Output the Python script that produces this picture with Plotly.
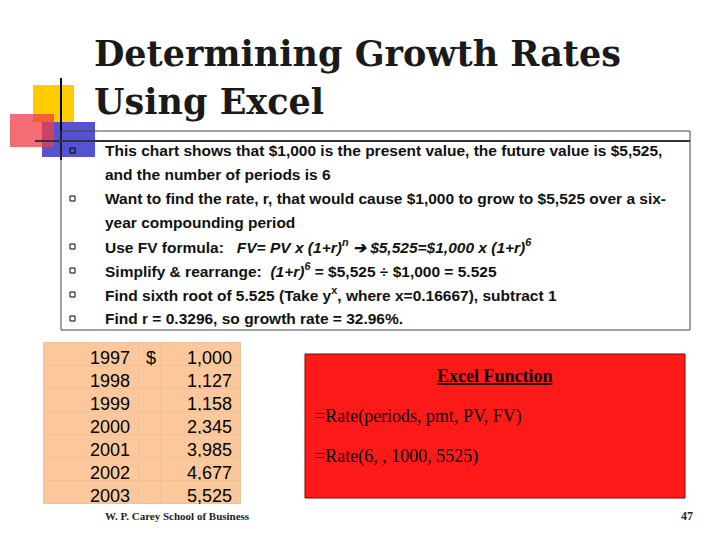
import plotly.graph_objects as go

years = ["1997", "1998", "1999", "2000", "2001", "2002", "2003"]
dollar = ["$", "", "", "", "", "", ""]
values = ["1,000", "1,127", "1,158", "2,345", "3,985", "4,677", "5,525"]

title_lines = ["Determining Growth Rates", "Using Excel"]
bullets = [
    "This chart shows that $1,000 is the present value, the future value is $5,525,",
    "and the number of periods is 6",
    "Want to find the rate, r, that would cause $1,000 to grow to $5,525 over a six-",
    "year compounding period",
    "Use FV formula:   <i>FV= PV x (1+r)<sup>n</sup> ➔ $5,525=$1,000 x (1+r)<sup>6</sup></i>",
    "Simplify &amp; rearrange:  <i>(1+r)<sup>6</sup></i> = $5,525 ÷ $1,000 = 5.525",
    "Find sixth root of 5.525 (Take y<sup>x</sup>, where x=0.16667), subtract 1",
    "Find r = 0.3296, so growth rate = 32.96%.",
]
bullet_marks = [True, False, True, False, True, True, True, True]
excel_lines = ["<u><b>Excel Function</b></u>", "=Rate(periods, pmt, PV, FV)", "=Rate(6, , 1000, 5525)"]

W, H = 720, 540
OFF = 8  # page body margin
fig = go.Figure()
fig.add_trace(go.Scatter(x=[100], y=[100], mode="markers", marker=dict(opacity=0), showlegend=False, hoverinfo="skip"))

fill = "#FCC89B"
fig.add_trace(go.Table(
    domain=dict(x=[(43 - OFF) / W, (240 - OFF) / W], y=[1 - (504 - OFF) / H, 1 - (342 - OFF) / H]),
    columnwidth=[95, 22, 80],
    header=dict(values=[years[0], dollar[0], values[0]], fill_color=fill, line_color="#EDC29A",
                align=["right", "left", "right"], height=23,
                font=dict(family="Liberation Sans", size=18, color="black")),
    cells=dict(values=[years[1:], dollar[1:], values[1:]], fill_color=fill, line_color="#EDC29A",
               align=["right", "left", "right"], height=23,
               font=dict(family="Liberation Sans", size=18, color="black")),
))

shapes = []
shapes.append(dict(type="rect", x0=33, x1=74, y0=85, y1=122, fillcolor="#FFCC00", line_width=0, layer="below"))
shapes.append(dict(type="rect", x0=42, x1=95, y0=122, y1=157, fillcolor="rgba(40,40,200,0.8)", line_width=0))
shapes.append(dict(type="rect", x0=10, x1=54, y0=114, y1=147, fillcolor="rgba(240,60,70,0.75)", line_width=0))
shapes.append(dict(type="line", x0=61, x1=61, y0=78, y1=160, line=dict(color="black", width=2)))
shapes.append(dict(type="line", x0=35, x1=690, y0=141, y1=141, line=dict(color="#333", width=2)))
shapes.append(dict(type="rect", x0=61, x1=690, y0=131, y1=330, line=dict(color="#444", width=1)))
shapes.append(dict(type="rect", x0=305, x1=685, y0=354, y1=498, fillcolor="#FF1A1A", line=dict(color="#800000", width=1)))

ann = []
for i, t in enumerate(title_lines):
    ann.append(dict(x=92, y=53 + i * 48, text="<b>" + t + "</b>", showarrow=False, xanchor="left", yanchor="middle",
                    font=dict(family="DejaVu Serif", size=35, color="#1a1a1a")))
for i, t in enumerate(bullets):
    y = 150 + i * 24
    if bullet_marks[i]:
        shapes.append(dict(type="rect", x0=70, x1=75, y0=y - 2, y1=y + 3, line=dict(color="black", width=1)))
    ann.append(dict(x=103, y=y, text="<b>" + t + "</b>", showarrow=False, xanchor="left", yanchor="middle",
                    font=dict(family="Liberation Sans", size=15.5, color="#111")))
for i, t in enumerate(excel_lines):
    ann.append(dict(x=313 if i else 495, y=376 + i * 40, text=t, showarrow=False,
                    xanchor="left" if i else "center", yanchor="middle",
                    font=dict(family="Liberation Serif", size=18, color="black")))
ann.append(dict(x=103, y=516, text="<b>W. P. Carey School of Business</b>", showarrow=False, xanchor="left",
                font=dict(family="Liberation Serif", size=11, color="#222")))
ann.append(dict(x=695, y=516, text="<b>47</b>", showarrow=False, xanchor="right",
                font=dict(family="Liberation Serif", size=12, color="#222")))

fig.update_layout(width=W, height=H, margin=dict(l=0, r=0, t=0, b=0), paper_bgcolor="white", plot_bgcolor="white",
                  xaxis=dict(range=[OFF, W + OFF], visible=False, fixedrange=True),
                  yaxis=dict(range=[H + OFF, OFF], visible=False, fixedrange=True),
                  shapes=shapes, annotations=ann, showlegend=False)
fig.write_html("out.html")
